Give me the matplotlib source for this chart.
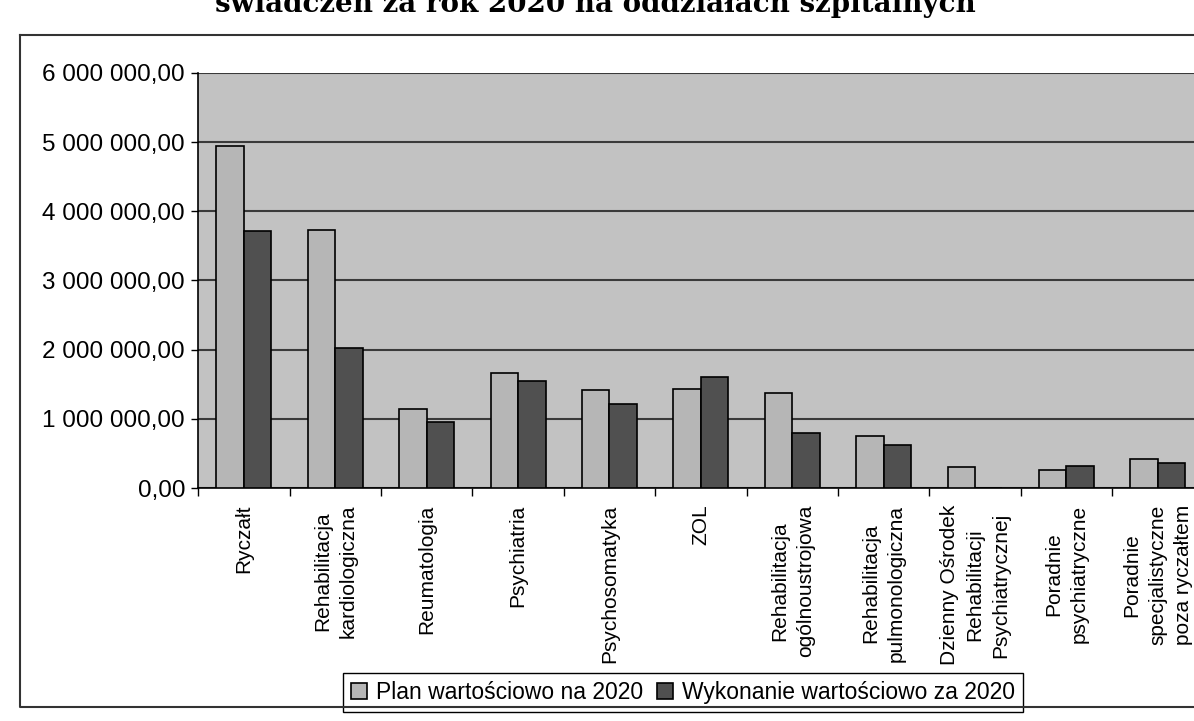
import numpy as np
import matplotlib.pyplot as plt
from matplotlib.lines import Line2D
from matplotlib.ticker import FuncFormatter

# Dane (zł)
kategorie = ["Ryczałt", "Rehabilitacja\nkardiologiczna", "Reumatologia", "Psychiatria",
             "Psychosomatyka", "ZOL", "Rehabilitacja\nogólnoustrojowa",
             "Rehabilitacja\npulmonologiczna", "Dzienny Ośrodek\nRehabilitacji\nPsychiatrycznej",
             "Poradnie\npsychiatryczne", "Poradnie\nspecjalistyczne\npoza ryczałtem"]
plan = [4940000, 3730000, 1150000, 1670000, 1420000, 1430000, 1370000,
        750000, 310000, 260000, 420000]
wykonanie = [3720000, 2030000, 950000, 1550000, 1210000, 1600000, 800000,
             620000, 0, 320000, 370000]
y_ticks = [0, 1000000, 2000000, 3000000, 4000000, 5000000, 6000000]

plt.rcParams["font.family"] = ["Liberation Sans", "DejaVu Sans"]

fig = plt.figure(figsize=(11.94, 7.21), dpi=100)
ax = fig.add_axes([0.166, 0.323, 0.842, 0.576])

x = np.arange(len(kategorie))
w = 0.30
ax.bar(x - w / 2, plan, w, color="#b6b6b6", edgecolor="black", linewidth=1.2,
       label="Plan wartościowo na 2020", zorder=3)
ax.bar(x + w / 2, wykonanie, w, color="#505050", edgecolor="black", linewidth=1.2,
       label="Wykonanie wartościowo za 2020", zorder=3)

ax.set_facecolor("#c2c2c2")
ax.set_xlim(-0.5, len(kategorie) - 0.5)
ax.set_ylim(0, 6000000)
ax.set_yticks(y_ticks)
ax.yaxis.set_major_formatter(FuncFormatter(lambda v, p: f"{v:,.2f}".replace(",", " ").replace(".", ",")))
ax.grid(axis="y", color="#3a3a3a", linewidth=1.5, zorder=1)
ax.tick_params(axis="y", labelsize=17.5, length=5, pad=4.5, width=1)

ax.set_xticks(x)
ax.set_xticklabels(kategorie, rotation=90, fontsize=15, ha="center", va="top",
                   multialignment="center")
for lab in ax.get_xticklabels():
    lab.set_linespacing(1.45)
ax.set_xticks(np.arange(len(kategorie) + 1) - 0.5, minor=True)
ax.tick_params(axis="x", which="major", length=0, pad=12)
ax.tick_params(axis="x", which="minor", length=6, width=1)

for s in ["top", "right"]:
    ax.spines[s].set_visible(False)
ax.spines["left"].set_linewidth(1.2)
ax.spines["bottom"].set_linewidth(1.2)

leg = ax.legend(loc="center", bbox_to_anchor=(0.572, 0.040), bbox_transform=fig.transFigure,
                ncol=2, frameon=True, fancybox=False, framealpha=1,
                edgecolor="black", handlelength=0.7, handleheight=0.7,
                handletextpad=0.4, columnspacing=0.6, borderpad=0.35,
                prop={"family": "Liberation Sans", "size": 16.5})
leg.get_frame().set_linewidth(1.0)

# ramka wykresu
fig.add_artist(Line2D([0.017, 0.017, 1.0], [0.952, 0.020, 0.020], color="#333333",
                      linewidth=1.5, transform=fig.transFigure))
fig.add_artist(Line2D([0.017, 1.0], [0.952, 0.952], color="#333333",
                      linewidth=1.5, transform=fig.transFigure))

# tytuł (częściowo ucięty u góry, jak w skanie)
fig.text(0.817, 0.983, "świadczeń za rok 2020 na oddziałach szpitalnych", ha="right",
         va="baseline", fontsize=20, fontweight="bold", family="DejaVu Serif")

fig.savefig("out.png", dpi=100)
